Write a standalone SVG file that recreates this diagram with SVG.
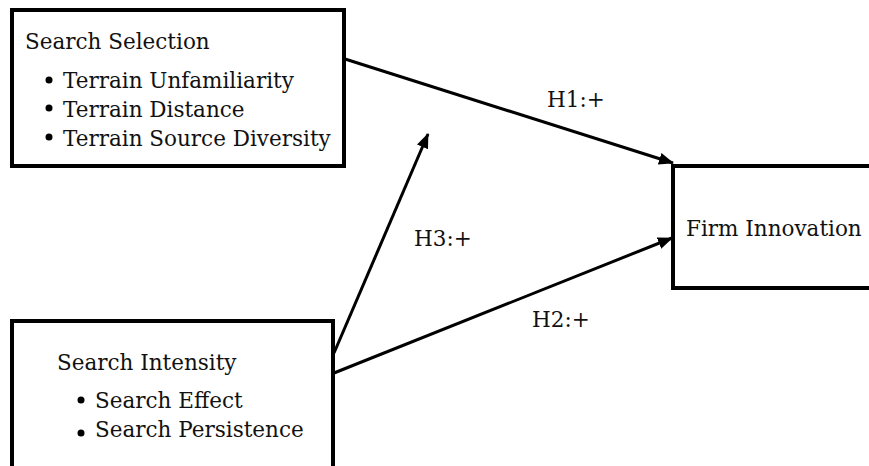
<svg xmlns="http://www.w3.org/2000/svg" width="869" height="466" viewBox="0 0 869 466">
<style>
.box{fill:#fff;stroke:#000;stroke-width:4}
.t{font-family:"DejaVu Serif","Liberation Serif",serif;font-size:21.5px;fill:#111}
.c{stroke:#000;stroke-width:3;fill:none;marker-end:url(#ah)}
</style>
<defs>
<marker id="ah" markerUnits="userSpaceOnUse" markerWidth="16" markerHeight="12" refX="14" refY="6" orient="auto">
<path d="M0,0 L15,6 L0,12 Z" fill="#000"/>
</marker>
</defs>
<rect width="869" height="466" fill="#fff"/>
<g id="connectors">
<line class="c" x1="345" y1="59" x2="673" y2="163"/>
<line class="c" x1="334" y1="373" x2="672" y2="238"/>
<line class="c" x1="334" y1="353" x2="428" y2="134"/>
<text class="t" x="547" y="107">H1:+</text>
<text class="t" x="414" y="246">H3:+</text>
<text class="t" x="532" y="327">H2:+</text>
</g>
<g id="search-selection">
<rect class="box" x="12" y="10" width="332" height="156"/>
<text class="t" x="25" y="49">Search Selection</text>
<circle cx="49" cy="80" r="3.5"/>
<text class="t" x="63" y="88">Terrain Unfamiliarity</text>
<circle cx="49" cy="108" r="3.5"/>
<text class="t" x="63" y="117">Terrain Distance</text>
<circle cx="49" cy="137" r="3.5"/>
<text class="t" x="63" y="146">Terrain Source Diversity</text>
</g>
<g id="firm-innovation">
<rect class="box" x="673" y="166" width="210" height="122"/>
<text class="t" x="686" y="236">Firm Innovation</text>
</g>
<g id="search-intensity">
<rect class="box" x="12" y="321" width="321" height="160"/>
<text class="t" x="57" y="370">Search Intensity</text>
<circle cx="81" cy="400" r="3.5"/>
<text class="t" x="95" y="408">Search Effect</text>
<circle cx="81" cy="433" r="3.5"/>
<text class="t" x="95" y="437">Search Persistence</text>
</g>
</svg>
